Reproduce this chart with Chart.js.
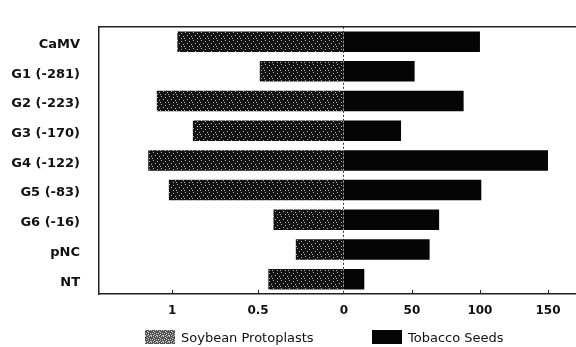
<!DOCTYPE html>
<html>
<head>
<meta charset="utf-8">
<script src="https://cdn.jsdelivr.net/npm/chart.js@4.4.1/dist/chart.umd.min.js"></script>
<style>
  body { margin: 0; background: #fff; }
  #wrap { position: relative; width: 576px; height: 347px; }
  #legend { position: absolute; left: 0; top: 329px; width: 576px; height: 16px;
    font: 13px 'DejaVu Sans', sans-serif; color: #111; }
  .item { position: absolute; top: 0; display: flex; align-items: center; height: 16px; }
  .box { width: 30px; height: 14px; margin-right: 6px; }
</style>
</head>
<body>
<div id="wrap">
  <canvas id="chart" width="576" height="347"></canvas>
  <div id="legend"></div>
</div>
<script>
const categories = ['CaMV', 'G1 (-281)', 'G2 (-223)', 'G3 (-170)', 'G4 (-122)', 'G5 (-83)', 'G6 (-16)', 'pNC', 'NT'];
const soybean = [0.97, 0.49, 1.09, 0.88, 1.14, 1.02, 0.41, 0.28, 0.44];
const tobacco = [100, 52, 88, 42, 150, 101, 70, 63, 15];
const soybeanTicks = [1, 0.5, 0];
const tobaccoTicks = [50, 100, 150];

// speckled grey fill like the scanned hatch
function speckle(size, base, light, dots) {
  const c = document.createElement('canvas');
  c.width = size; c.height = size;
  const g = c.getContext('2d');
  g.fillStyle = base;
  g.fillRect(0, 0, size, size);
  g.fillStyle = light;
  dots.forEach(([x, y]) => g.fillRect(x, y, 1, 1));
  return c;
}
const barTile = speckle(8, '#121212', '#b4b4b4', [[1, 0], [5, 1], [3, 3], [7, 4], [0, 6], [5, 6]]);
const keyTile = speckle(6, '#555', '#c8c8c8', [[0, 0], [2, 1], [4, 0], [1, 3], [3, 2], [5, 3], [0, 5], [3, 4], [5, 5], [2, 5]]);

const ctx = document.getElementById('chart').getContext('2d');
const soyPattern = ctx.createPattern(barTile, 'repeat');

const axisColor = '#222';
const tickFont = { family: "'DejaVu Sans', sans-serif", size: 12, weight: 'bold' };

const frame = {
  id: 'frame',
  afterLayout(chart) {
    // both x axes share one label row; give the inner one room to draw its labels
    const s = chart.scales.x;
    s.bottom = chart.height;
    s.height = s.bottom - s.top;
  },
  afterDraw(chart) {
    const { ctx, chartArea, scales } = chart;
    ctx.save();
    ctx.strokeStyle = axisColor;
    ctx.lineWidth = 1.5;
    ctx.beginPath();
    ctx.moveTo(chartArea.left, chartArea.top);
    ctx.lineTo(chartArea.right, chartArea.top);
    ctx.stroke();
    ctx.lineWidth = 1;
    ctx.beginPath();
    [scales.xs, scales.x].forEach(s => s.ticks.forEach(t => {
      if (t.value === 0) return;
      const px = Math.round(s.getPixelForValue(t.value)) + 0.5;
      ctx.moveTo(px, chartArea.bottom);
      ctx.lineTo(px, chartArea.bottom - 4);
    }));
    ctx.stroke();
    ctx.restore();
  }
};

const chart = new Chart(ctx, {
  type: 'bar',
  data: {
    labels: categories,
    datasets: [{
      label: 'Soybean Protoplasts',
      data: soybean,
      xAxisID: 'xs',
      backgroundColor: soyPattern,
      grouped: false,
      categoryPercentage: 1,
      barPercentage: 0.69
    }, {
      label: 'Tobacco Seeds',
      data: tobacco,
      xAxisID: 'x',
      backgroundColor: '#050505',
      grouped: false,
      categoryPercentage: 1,
      barPercentage: 0.69
    }]
  },
  options: {
    indexAxis: 'y',
    responsive: false,
    animation: false,
    layout: { padding: { top: 15, left: 0, right: 0, bottom: 0 } },
    plugins: {
      legend: { display: false },
      tooltip: { enabled: false }
    },
    scales: {
      y: {
        position: 'left',
        afterFit: s => { s.width = 99; },
        grid: { display: false, drawTicks: false },
        border: { display: true, color: axisColor, width: 1.5 },
        ticks: {
          padding: 19,
          labelOffset: 3,
          color: '#111',
          font: { family: "'DejaVu Sans', sans-serif", size: 13, weight: 'bold' }
        }
      },
      x: {
        type: 'linear',
        position: 'bottom',
        weight: 0,
        min: -180,
        max: 170.6,
        afterBuildTicks: s => { s.ticks = tobaccoTicks.map(v => ({ value: v })); },
        afterFit: s => { s.height = 0; },
        grid: { display: false, drawTicks: false },
        border: { display: true, color: axisColor, width: 1.5 },
        ticks: { padding: 10, color: '#111', font: tickFont, autoSkip: false, maxRotation: 0,
          callback: v => String(v) }
      },
      xs: {
        type: 'linear',
        axis: 'x',
        position: 'bottom',
        weight: 1,
        reverse: true,
        min: -1.353,
        max: 1.427,
        afterBuildTicks: s => { s.ticks = soybeanTicks.map(v => ({ value: v })); },
        afterFit: s => { s.height = 53; },
        grid: {
          drawTicks: false,
          lineWidth: 1,
          color: c => (c.tick && c.tick.value === 0) ? '#333' : 'rgba(0,0,0,0)'
        },
        border: { display: false, dash: [2, 2] },
        ticks: { padding: 10, color: '#111', font: tickFont, autoSkip: false, maxRotation: 0,
          callback: v => String(v) }
      }
    }
  },
  plugins: [frame]
});

// legend, built from the datasets
const legendPos = [145, 372];
const legend = document.getElementById('legend');
chart.data.datasets.forEach((ds, i) => {
  const item = document.createElement('div');
  item.className = 'item';
  item.style.left = legendPos[i] + 'px';
  const box = document.createElement('span');
  box.className = 'box';
  box.style.background = i === 0 ? 'url(' + keyTile.toDataURL() + ')' : ds.backgroundColor;
  const text = document.createElement('span');
  text.textContent = ds.label;
  item.appendChild(box);
  item.appendChild(text);
  legend.appendChild(item);
});
</script>
</body>
</html>
